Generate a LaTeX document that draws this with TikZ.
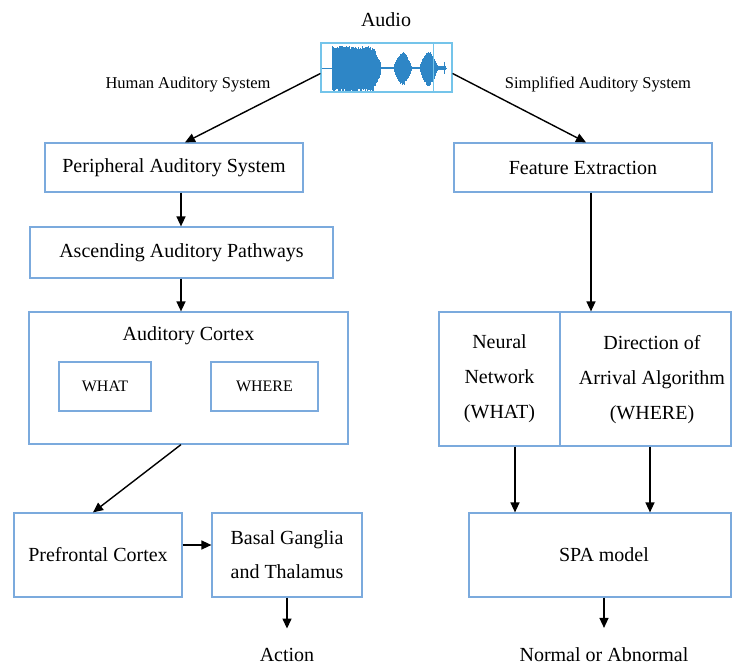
\documentclass[tikz,border=0pt]{standalone}
\usepackage{fontspec}
\setmainfont{Liberation Serif}
\usetikzlibrary{arrows.meta,calc}
\definecolor{boxblue}{HTML}{7BAADD}
\definecolor{wave}{HTML}{2E86C6}
\definecolor{audioframe}{HTML}{74C4EA}
\begin{document}
\begin{tikzpicture}[x=1pt,y=-1pt,
  box/.style={draw=boxblue,line width=1.2pt,rectangle,inner sep=0pt,align=center,font=\fontsize{20}{35}\selectfont},
  txt/.style={inner sep=0pt,align=center,font=\fontsize{20}{35}\selectfont},
  small/.style={inner sep=0pt,font=\fontsize{16.5}{20}\selectfont},
  arr/.style={-{Triangle[length=10pt,width=9pt]},line width=1.4pt},
  declare function={wenv(\q)=(\q<332) ? 0 : ((\q<373) ? 22 : ((\q<381) ? (22-(\q-373)*2.2) : ((\q<393) ? 1 : ((\q<412) ? (16*sin((\q-393)*180/19)) : ((\q<419) ? 1 : ((\q<438) ? (17*sin((\q-419)*180/19)) : ((\q<446) ? 2 : 0)))))));}]
\useasboundingbox (0,0) rectangle (732,666);

% audio waveform
\pgfmathsetseed{7}
\draw[wave,line width=0.6pt] (321,68) -- (447,68);
\foreach \x in {332,332.5,...,446}{
  \pgfmathsetmacro\e{wenv(\x)}
  \pgfmathsetmacro\u{\e*(0.82+0.18*rnd)}
  \pgfmathsetmacro\d{\e*(0.9+0.2*rnd)}
  \fill[wave] (\x-0.35,68-\u) rectangle (\x+0.35,68+\d);
}
\draw[wave,line width=1pt] (444,62) -- (444,74);
\draw[audioframe,line width=0.6pt] (433,43) -- (433,92);
\node[draw=audioframe,line width=1.2pt,minimum width=131pt,minimum height=49pt,inner sep=0pt] (audio) at (386.5,67.5) {};
\node[txt] (audiolbl) at (386,20) {Audio};

% labels
\node[small] (human) at (188,85) {Human Auditory System};
\node[small] (simpl) at (598,84) {Simplified Auditory System};

% left column
\node[box,minimum width=258pt,minimum height=49pt] (periph) at (174,167.5) {Peripheral Auditory System};
\node[box,minimum width=303pt,minimum height=51pt] (asc) at (181.5,252.5) {Ascending Auditory Pathways};
\node[box,minimum width=319pt,minimum height=132pt] (cortex) at (188.5,378) {};
\node[txt] (cortextitle) at (188.5,336) {Auditory Cortex};
\node[box,minimum width=92pt,minimum height=49pt,font=\fontsize{16}{20}\selectfont] (what) at (105,386.5) {WHAT};
\node[box,minimum width=107pt,minimum height=49pt,font=\fontsize{16}{20}\selectfont] (where) at (264.5,386.5) {WHERE};
\node[box,minimum width=168pt,minimum height=84pt] (pf) at (98,555) {Prefrontal Cortex};
\node[box,minimum width=150pt,minimum height=84pt,font=\fontsize{20}{34}\selectfont] (basal) at (287,555) {Basal Ganglia\\and Thalamus};
\node[txt,anchor=base] (action) at (287,661) {Action};

% right column
\node[box,minimum width=258pt,minimum height=49pt] (feat) at (583,167.5) {Feature Extraction};
\node[box,minimum width=121pt,minimum height=134pt] (neural) at (499.5,379) {Neural\\Network\\(WHAT)};
\node[box,minimum width=171pt,minimum height=134pt] (dir) at (645.5,379) {};
\node[txt] (dirtxt) at (652,380) {Direction of\\Arrival Algorithm\\(WHERE)};
\node[box,minimum width=262pt,minimum height=84pt] (spa) at (600,555) {};
\node[txt] (spatxt) at (604,555) {SPA model};
\node[txt,anchor=base] (normal) at (604,661) {Normal or Abnormal};

% helper coordinates
\coordinate (c181) at (181,0);
\coordinate (c591) at (591,0);
\coordinate (c515) at (515,0);
\coordinate (c650) at (650,0);
\coordinate (c604) at (604,0);
\coordinate (c545) at (0,545);

% connectors
\draw[arr] ([yshift=-6pt]audio.west) -- ([xshift=11pt]periph.north);
\draw[arr] ([yshift=-6pt]audio.east) -- ([xshift=3pt]feat.north);
\draw[arr] (periph.south -| c181) -- (asc.north -| c181);
\draw[arr] (asc.south -| c181) -- (cortex.north -| c181);
\draw[arr] (cortex.south -| c181) -- ([xshift=-5pt]pf.north);
\draw[arr] (pf.east |- c545) -- (basal.west |- c545);
\draw[arr,shorten >=19pt] (basal.south) -- (action.north);
\draw[arr] (feat.south -| c591) -- (dir.north -| c591);
\draw[arr] (neural.south -| c515) -- (spa.north -| c515);
\draw[arr] (dir.south -| c650) -- (spa.north -| c650);
\draw[arr,shorten >=19pt] (spa.south -| c604) -- (normal.north);
\end{tikzpicture}
\end{document}
